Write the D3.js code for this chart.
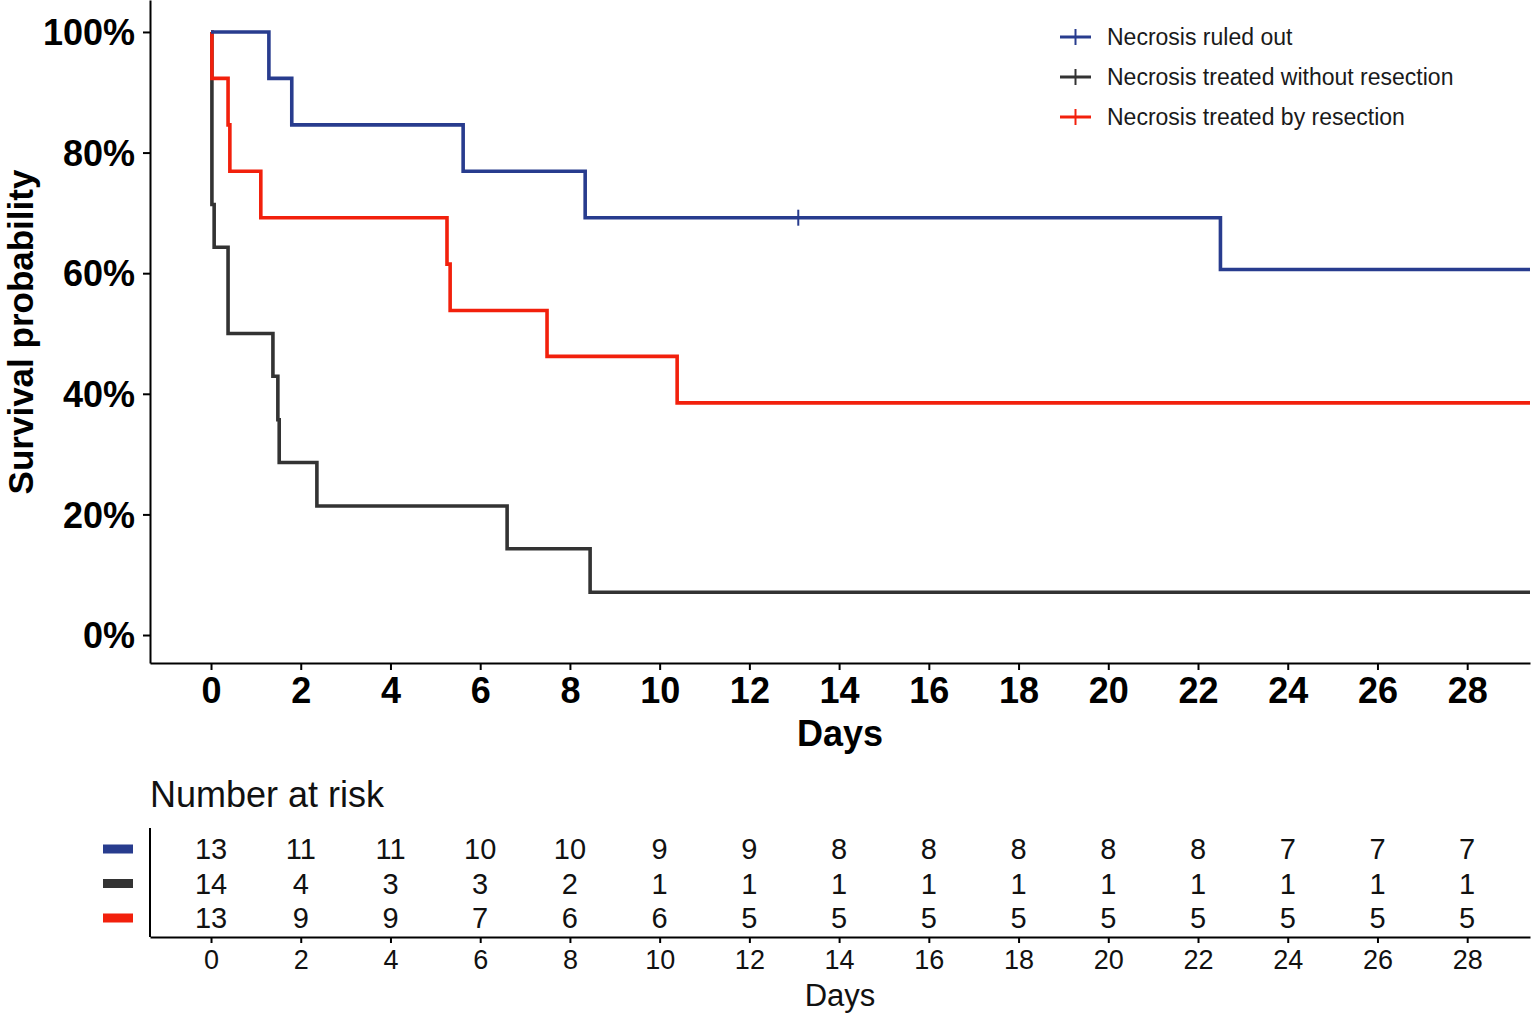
<!DOCTYPE html>
<html><head><meta charset="utf-8">
<script src="https://cdn.jsdelivr.net/npm/d3@7"></script>
<style>body{margin:0;background:#fff}svg{font-family:"Liberation Sans",Arial,sans-serif}</style>
</head><body><svg id="c" width="1534" height="1015"></svg>
<script>
const seriesNames = ["Necrosis ruled out","Necrosis treated without resection","Necrosis treated by resection"];
const seriesColors = ["#283c8e","#333333","#f2200c"];
// step points: [time, survival]
const blueSteps = [[0,1],[1.29,0.923],[1.80,0.846],[5.62,0.769],[8.34,0.692],[22.5,0.606]];
const blackSteps = [[0,1],[0.02,0.714],[0.07,0.643],[0.38,0.5],[1.38,0.429],[1.49,0.357],[1.52,0.286],[2.36,0.214],[6.6,0.143],[8.45,0.071]];
const redSteps = [[0,1],[0.02,0.923],[0.38,0.846],[0.42,0.769],[1.11,0.692],[5.26,0.615],[5.33,0.538],[7.49,0.462],[10.39,0.385]];
const endTime = 29.4;
const blueCensor = [[13.09,0.692]];
const xTicks = [0,2,4,6,8,10,12,14,16,18,20,22,24,26,28];
const yTicks = [0,0.2,0.4,0.6,0.8,1.0];
const riskBlue = [13,11,11,10,10,9,9,8,8,8,8,8,7,7,7];
const riskBlack = [14,4,3,3,2,1,1,1,1,1,1,1,1,1,1];
const riskRed = [13,9,9,7,6,6,5,5,5,5,5,5,5,5,5];

const svg = d3.select("#c");
const x = d3.scaleLinear().domain([-1.36, 29.4]).range([150, 1530]);
const y = d3.scaleLinear().domain([-0.0464, 1.053]).range([663, 0]);
const FF = "Liberation Sans, Arial, sans-serif";

// axes
const xAxis = svg.append("g").attr("transform","translate(0,663)")
  .call(d3.axisBottom(x).tickValues(xTicks).tickSize(7).tickSizeOuter(0).tickPadding(4));
const yAxis = svg.append("g").attr("transform","translate(150,0)")
  .call(d3.axisLeft(y).tickValues(yTicks).tickFormat(d=>Math.round(d*100)+"%").tickSize(7).tickSizeOuter(0).tickPadding(8));
[xAxis,yAxis].forEach(a=>{
  a.select(".domain").attr("stroke","#000").attr("stroke-width",2);
  a.selectAll(".tick line").attr("stroke","#000").attr("stroke-width",2);
  a.selectAll("text").attr("font-size",36).attr("font-weight","bold").attr("fill","#000")
   .attr("font-family",FF);
});
xAxis.selectAll("text").attr("dy","0.8em");
yAxis.selectAll("text").attr("dy","0.35em");

svg.append("text").attr("x",840).attr("y",746).attr("text-anchor","middle")
  .attr("font-size",36).attr("font-weight","bold").attr("font-family",FF).text("Days");
svg.append("text").attr("transform","translate(33,332) rotate(-90)").attr("text-anchor","middle")
  .attr("font-size",35).attr("font-weight","bold").attr("font-family",FF).text("Survival probability");

// curves
const line = d3.line().x(d=>x(d[0])).y(d=>y(d[1])).curve(d3.curveStepAfter);
const allSteps = [blueSteps, blackSteps, redSteps];
[1,2,0].forEach(i=>{
  const s = allSteps[i];
  const pts = s.concat([[endTime, s[s.length-1][1]]]);
  svg.append("path").datum(pts).attr("d",line).attr("fill","none")
    .attr("stroke",seriesColors[i]).attr("stroke-width",3.6).attr("stroke-linejoin","miter");
});
// censor marks
svg.selectAll(".cens").data(blueCensor).enter().append("line")
  .attr("x1",d=>x(d[0])).attr("x2",d=>x(d[0])).attr("y1",d=>y(d[1])-8).attr("y2",d=>y(d[1])+8)
  .attr("stroke",seriesColors[0]).attr("stroke-width",2);

// legend
const lg = svg.append("g");
seriesNames.forEach((n,i)=>{
  const cy = 37 + i*40;
  lg.append("line").attr("x1",1060).attr("x2",1091).attr("y1",cy).attr("y2",cy)
    .attr("stroke",seriesColors[i]).attr("stroke-width",3);
  lg.append("line").attr("x1",1075.5).attr("x2",1075.5).attr("y1",cy-8).attr("y2",cy+8)
    .attr("stroke",seriesColors[i]).attr("stroke-width",2);
  lg.append("text").attr("x",1107).attr("y",cy).attr("dy","0.35em").attr("font-size",23)
    .attr("fill","#1a1a1a").attr("font-family",FF).text(n);
});

// risk table
svg.append("text").attr("x",150).attr("y",807).attr("font-size",36).attr("fill","#111").attr("font-family",FF).text("Number at risk");
const ry = d3.scalePoint().domain([0,1,2]).range([849,918]);
const rg = svg.append("g");
rg.append("line").attr("x1",150).attr("x2",150).attr("y1",828).attr("y2",937).attr("stroke","#000").attr("stroke-width",2);
const xr = svg.append("g").attr("transform","translate(0,937)")
  .call(d3.axisBottom(x).tickValues(xTicks).tickSize(6).tickSizeOuter(0).tickPadding(4));
xr.select(".domain").attr("stroke","#000").attr("stroke-width",2);
xr.selectAll(".tick line").attr("stroke","#000").attr("stroke-width",2);
xr.selectAll("text").attr("font-size",27).attr("fill","#111").attr("font-family",FF).attr("dy","0.8em");
svg.append("text").attr("x",840).attr("y",1006).attr("text-anchor","middle").attr("font-size",31).attr("fill","#111").attr("font-family",FF).text("Days");
const risks = [riskBlue, riskBlack, riskRed];
risks.forEach((r,i)=>{
  rg.append("rect").attr("x",103).attr("y",ry(i)-4.5).attr("width",30).attr("height",9).attr("fill",seriesColors[i]);
  rg.selectAll(".r"+i).data(r).enter().append("text")
    .attr("x",(d,j)=>x(xTicks[j])).attr("y",ry(i)).attr("dy","0.36em").attr("text-anchor","middle")
    .attr("font-size",29).attr("fill","#111").attr("font-family",FF).text(d=>d);
});
</script></body></html>
